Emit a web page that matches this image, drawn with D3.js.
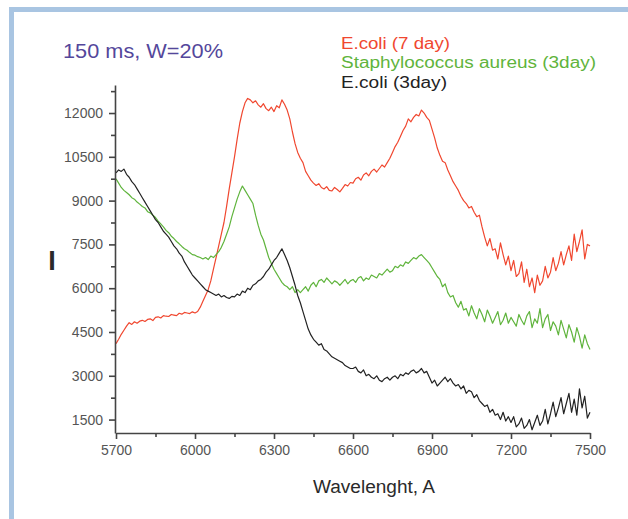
<!DOCTYPE html>
<html>
<head>
<meta charset="utf-8">
<script src="https://cdn.jsdelivr.net/npm/d3@7"></script>
<style>
    body { margin: 0; background: #fff; }
    svg { display: block; font-family: "Liberation Sans", Arial, sans-serif; }
    .axis path, .axis line { stroke: #444; stroke-width: 1.6; }
    .axis text { fill: #555; }
</style>
</head>
<body>
<svg id="chart" width="628" height="519"></svg>
<script>
// spectra sampled every 10 A from 5700 to 7500 (one row = 100 A)
const wavelengths = d3.range(5700, 7501, 10);

const ecoli7 = [
    4100, 4250, 4420, 4560, 4700, 4820, 4760, 4850, 4800, 4870,
    4900, 4860, 4930, 4950, 4890, 5000, 5020, 4980, 5060, 5040,
    5030, 5100, 5080, 5060, 5140, 5110, 5170, 5150, 5130, 5190,
    5150, 5200, 5350, 5550, 5750, 5950, 6250, 6650, 7050, 7450,
    7850, 8250, 8800, 9400, 9950, 10500, 11100, 11650, 12050, 12350,
    12500, 12450, 12350, 12420, 12280, 12200, 12320, 12150, 12080, 12200,
    12050, 12250, 12180, 12450, 12300, 12100, 11800, 11350, 10950, 10650,
    10450, 10300, 10000, 9850, 9700, 9600, 9520, 9580, 9450, 9400,
    9480, 9350, 9330, 9450, 9380, 9300, 9420, 9550, 9500, 9620,
    9600, 9750, 9800, 9700, 9880, 9950, 9850, 10000, 10080, 9980,
    10100, 10220, 10150, 10300, 10450, 10650, 10850, 11000, 11200, 11400,
    11550, 11800, 11700, 11850, 11950, 11900, 12100, 12000, 11850, 11750,
    11450, 11150, 10800, 10550, 10350, 10300, 10050, 9850, 9650, 9500,
    9350, 9150, 9000, 8900, 8750, 8800, 8600, 8450, 8500, 8100,
    7750, 7450, 7700, 7300, 7350, 7000, 7550, 7150, 6800, 7100,
    6600, 6950, 6400, 6500, 6900, 6200, 6650, 6050, 6350, 5850,
    6450, 6100, 6250, 6750, 6350, 6550, 7050, 6600, 6850, 7250,
    6800, 7150, 7450, 6950, 7850, 7250, 7600, 8000, 7000, 7500,
    7450
];

const staph3 = [
    9750, 9600, 9450, 9350, 9280, 9200, 9100, 9050, 8950, 8880,
    8800, 8750, 8620, 8580, 8500, 8420, 8300, 8200, 8100, 7980,
    7900, 7780, 7700, 7600, 7520, 7430, 7350, 7300, 7220, 7150,
    7130, 7080, 7050, 7000, 7050, 6980, 7100, 7050, 7150, 7250,
    7400, 7600, 7850, 8100, 8450, 8750, 9050, 9300, 9500, 9350,
    9200, 9050, 8900, 8500, 8150, 7850, 7650, 7350, 7050, 6850,
    6650, 6500, 6350, 6200, 6100, 6050, 5950, 6050, 5850, 5950,
    5850, 5950, 6050, 5900, 6100, 6200, 6050, 6250, 6300, 6200,
    6350, 6250, 6150, 6250, 6200, 6100, 6200, 6300, 6150, 6250,
    6300, 6200, 6350, 6400, 6250, 6350, 6300, 6450, 6400, 6350,
    6500, 6450, 6550, 6650, 6550, 6600, 6750, 6700, 6800, 6750,
    6900, 6850, 6950, 7050, 7000, 7100, 7150, 7050, 6950, 6850,
    6700, 6550, 6400, 6300, 6050, 6150, 5850, 5700, 5750, 5500,
    5350, 5550, 5250, 5300, 5050, 5400, 5150, 4950, 5300, 5100,
    4850, 5250, 5050, 4800, 5000, 5200, 4750, 4900, 5150, 4800,
    5000, 4850, 4700, 5100, 4900, 4750, 5050, 5200, 4650, 4950,
    4800, 5300, 4650, 4950, 5100, 4550, 4850, 4700, 4400, 4900,
    4600, 4300, 4750, 4500, 4150, 4650, 4350, 3950, 4400, 4100,
    3900
];

const ecoli3 = [
    9950, 10050, 10000, 10080, 9900, 9800, 9650, 9550, 9400, 9250,
    9100, 8950, 8800, 8650, 8500, 8350, 8250, 8100, 7950, 7850,
    7750, 7600, 7450, 7350, 7200, 7100, 6900, 6750, 6600, 6450,
    6350, 6250, 6150, 6050, 5950, 5900, 5850, 5800, 5750, 5800,
    5700, 5750, 5680, 5650, 5720, 5700, 5800, 5750, 5900, 5850,
    6000, 5950, 6100, 6150, 6250, 6300, 6400, 6550, 6650, 6800,
    6950, 7050, 7200, 7350, 7150, 6950, 6700, 6400, 6100, 5750,
    5500, 5200, 4900, 4600, 4400, 4250, 4150, 4050, 4100, 3900,
    3850, 3750, 3650, 3600, 3550, 3500, 3450, 3350, 3300, 3250,
    3250, 3300, 3150, 3100, 3200, 3000, 3050, 2950, 2900, 3000,
    2850, 2800, 2900, 2950, 2850, 2950, 3000, 2900, 3050, 3000,
    3100, 3050, 3150, 3200, 3100, 3150, 3250, 3100, 3150, 2950,
    2750, 2850, 2650, 2750, 2850, 2950, 2800, 2900, 2750, 2650,
    2700, 2550, 2650, 2400, 2500, 2450, 2250, 2350, 2150, 2050,
    1950, 2000, 1750, 1850, 1650, 1700, 1500, 1750, 1450, 1600,
    1400, 1600, 1250, 1350, 1550, 1200, 1300, 1500, 1150, 1400,
    1650, 1300, 1450, 1850, 1350, 1700, 2100, 1600, 1900, 2250,
    1700, 2050, 2400, 1750, 2200, 1650, 2550, 1900, 2300, 1550,
    1750
];

const seriesNames = ['E.coli (7 day)', 'Staphylococcus aureus (3day)', 'E.coli (3day)'];
const seriesColors = ['#f0472f', '#5fb43c', '#222222'];
const seriesValues = [ecoli7, staph3, ecoli3];

const xTicks = [5700, 6000, 6300, 6600, 6900, 7200, 7500];
const yTicks = [1500, 3000, 4500, 6000, 7500, 9000, 10500, 12000];

const svg = d3.select('#chart');

// light blue frame (top and left edges only)
svg.append('path')
    .attr('d', 'M11.5,519 V9.5 H628')
    .attr('fill', 'none')
    .attr('stroke', '#a9c5e2')
    .attr('stroke-width', 5);

const x = d3.scaleLinear().domain([5700, 7500]).range([116, 590]);
const y = d3.scaleLinear().domain([1040, 12960]).range([433, 85]);

const line = d3.line()
    .x((d, i) => x(wavelengths[i]))
    .y(d => y(d));

seriesValues.forEach((vals, k) => {
    svg.append('path')
        .datum(vals)
        .attr('fill', 'none')
        .attr('stroke', seriesColors[k])
        .attr('stroke-width', 1.2)
        .attr('stroke-linejoin', 'round')
        .attr('d', line);
});

// minor ticks
svg.append('g')
    .attr('class', 'axis')
    .attr('transform', 'translate(0,433)')
    .call(d3.axisBottom(x).tickValues(d3.range(5850, 7500, 300)).tickSize(4).tickFormat(''))
    .select('.domain').remove();
svg.append('g')
    .attr('class', 'axis')
    .attr('transform', 'translate(115,0)')
    .call(d3.axisLeft(y).tickValues(d3.range(2250, 12800, 1500)).tickSize(4).tickFormat(''))
    .select('.domain').remove();

// major axes
svg.append('g')
    .attr('class', 'axis')
    .attr('transform', 'translate(0,433)')
    .call(d3.axisBottom(x).tickValues(xTicks).tickSize(6).tickSizeOuter(0).tickPadding(6).tickFormat(d3.format('d')))
    .selectAll('text')
    .style('font-size', '14px');

svg.append('g')
    .attr('class', 'axis')
    .attr('transform', 'translate(115,0)')
    .call(d3.axisLeft(y).tickValues(yTicks).tickSize(6).tickSizeOuter(0).tickPadding(6).tickFormat(d3.format('d')))
    .selectAll('text')
    .style('font-size', '14px');

// axis titles
svg.append('text')
    .attr('x', 374)
    .attr('y', 493)
    .attr('text-anchor', 'middle')
    .attr('textLength', 122)
    .attr('lengthAdjust', 'spacingAndGlyphs')
    .style('font-size', '18px')
    .style('fill', '#2a2a2a')
    .text('Wavelenght, A');

svg.append('text')
    .attr('x', 52)
    .attr('y', 270)
    .attr('text-anchor', 'middle')
    .style('font-size', '27px')
    .style('font-weight', 'bold')
    .style('fill', '#2a2a2a')
    .text('I');

// annotation
svg.append('text')
    .attr('x', 63)
    .attr('y', 58)
    .attr('textLength', 160)
    .attr('lengthAdjust', 'spacingAndGlyphs')
    .style('font-size', '21px')
    .style('fill', '#54479b')
    .text('150 ms, W=20%');

// legend
const legendWidths = [109, 255, 106];
const legendY = [49, 68, 88];
seriesNames.forEach((name, k) => {
    svg.append('text')
        .attr('x', 341)
        .attr('y', legendY[k])
        .attr('textLength', legendWidths[k])
        .attr('lengthAdjust', 'spacingAndGlyphs')
        .style('font-size', '16px')
        .style('fill', seriesColors[k])
        .text(name);
});
</script>
</body>
</html>
